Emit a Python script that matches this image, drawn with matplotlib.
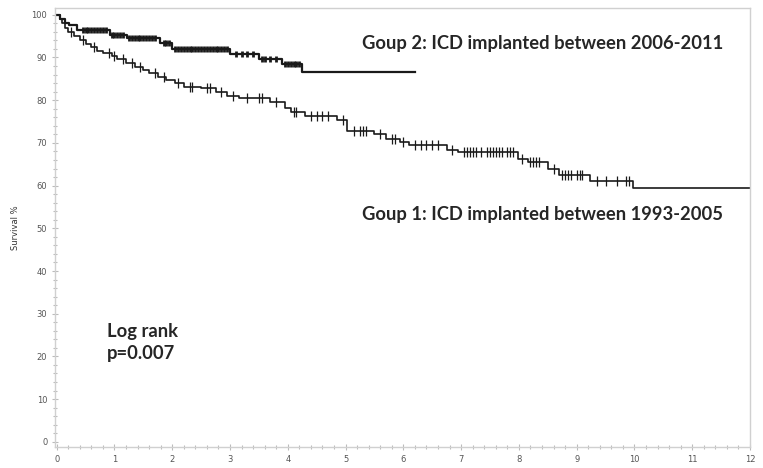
import matplotlib.pyplot as plt
from matplotlib.ticker import MultipleLocator

# Kaplan-Meier step data (years, survival %)
g2_t = [0, 0.05, 0.14, 0.22, 0.36, 0.92, 1.21, 1.78, 2.0, 3.0, 3.5, 3.9, 4.25, 6.2]
g2_s = [100, 99, 98, 97.5, 96.5, 95.3, 94.5, 93.3, 92.0, 90.8, 89.6, 88.5, 86.7, 86.7]
g2_cens = [0.45, 0.5, 0.55, 0.6, 0.65, 0.7, 0.75, 0.8, 0.85, 0.95, 1.0, 1.05, 1.1,
           1.15, 1.25, 1.3, 1.35, 1.4, 1.45, 1.5, 1.55, 1.6, 1.65, 1.7, 1.85, 1.9,
           1.95, 2.05, 2.1, 2.15, 2.2, 2.25, 2.3, 2.35, 2.4, 2.45, 2.5, 2.55, 2.6,
           2.65, 2.7, 2.75, 2.8, 2.85, 2.9, 2.95, 3.1, 3.2, 3.3, 3.4, 3.55, 3.6,
           3.7, 3.8, 3.95, 4.0, 4.05, 4.1, 4.15, 4.2]

g1_t = [0, 0.05, 0.1, 0.15, 0.2, 0.3, 0.4, 0.5, 0.6, 0.7, 0.8, 0.95, 1.05, 1.2,
        1.35, 1.5, 1.6, 1.75, 1.9, 2.05, 2.2, 2.5, 2.75, 2.95, 3.15, 3.7, 3.95,
        4.05, 4.3, 4.85, 5.02, 5.5, 5.7, 5.95, 6.1, 6.75, 6.95, 7.98, 8.15, 8.5,
        8.7, 9.23, 9.97, 12.0]
g1_s = [100, 99, 98, 97, 96, 95.0, 94.2, 93.2, 92.4, 91.6, 91.0, 90.3, 89.7, 88.8,
        87.8, 87.0, 86.3, 85.5, 84.8, 84.0, 83.2, 82.8, 82.0, 81.0, 80.4, 79.6,
        78.2, 77.3, 76.2, 75.3, 72.8, 72.0, 71.0, 70.2, 69.6, 68.4, 67.9, 66.3,
        65.6, 64.0, 62.5, 61.1, 59.5, 59.5]
g1_cens = [0.25, 0.45, 0.65, 0.9, 1.0, 1.15, 1.3, 1.45, 1.7, 1.85, 2.1, 2.3, 2.35,
           2.6, 2.65, 2.85, 3.05, 3.3, 3.5, 3.55, 3.8, 4.1, 4.15, 4.4, 4.5, 4.6,
           4.7, 4.95, 5.15, 5.25, 5.3, 5.35, 5.6, 5.8, 5.85, 6.0, 6.2, 6.3, 6.4,
           6.5, 6.6, 6.85, 7.05, 7.1, 7.15, 7.2, 7.25, 7.35, 7.45, 7.5, 7.55, 7.6,
           7.65, 7.7, 7.8, 7.85, 7.9, 8.05, 8.2, 8.25, 8.3, 8.35, 8.6, 8.75, 8.8,
           8.85, 8.9, 9.0, 9.05, 9.1, 9.35, 9.5, 9.7, 9.85, 9.9]


def surv_at(t_list, s_list, t):
    s = s_list[0]
    for ti, si in zip(t_list, s_list):
        if ti <= t:
            s = si
    return s


fig = plt.figure(figsize=(7.63, 4.68), dpi=100)
ax = fig.add_axes([0.072, 0.045, 0.911, 0.938])

ax.step(g2_t, g2_s, where='post', color='#1a1a1a', lw=1.6)
ax.plot(g2_cens, [surv_at(g2_t, g2_s, c) for c in g2_cens], ls='none',
        marker='|', ms=5, mew=2.0, color='#1a1a1a')
ax.step(g1_t, g1_s, where='post', color='#1a1a1a', lw=1.2)
ax.plot(g1_cens, [surv_at(g1_t, g1_s, c) for c in g1_cens], ls='none',
        marker='|', ms=7, mew=0.9, color='#1a1a1a')

ax.set_xlim(-0.03, 12)
ax.set_ylim(-1.2, 101.6)
ax.xaxis.set_major_locator(MultipleLocator(1))
ax.xaxis.set_minor_locator(MultipleLocator(0.2))
ax.yaxis.set_major_locator(MultipleLocator(10))
ax.yaxis.set_minor_locator(MultipleLocator(2))
ax.tick_params(which='both', direction='inout', color='#bbbbbb', labelcolor='#555555',
               labelsize=6, length=4, width=0.8)
ax.tick_params(which='minor', length=3)
for side in ax.spines.values():
    side.set_color('#d0d0d0')
    side.set_linewidth(1.0)
ax.set_ylabel('Survival %', fontsize=6, color='#333333', labelpad=8)

font = dict(family=['Lato', 'DejaVu Sans'], fontweight='bold', fontsize=13.2, color='#262626')
ax.text(5.28, 93.2, 'Goup 2: ICD implanted between 2006-2011', va='center', **font)
ax.text(5.28, 53.2, 'Goup 1: ICD implanted between 1993-2005', va='center', **font)
ax.text(0.87, 25.8, 'Log rank', va='center', **font)
ax.text(0.87, 20.6, 'p=0.007', va='center', **font)

fig.savefig('out.png', dpi=100)
